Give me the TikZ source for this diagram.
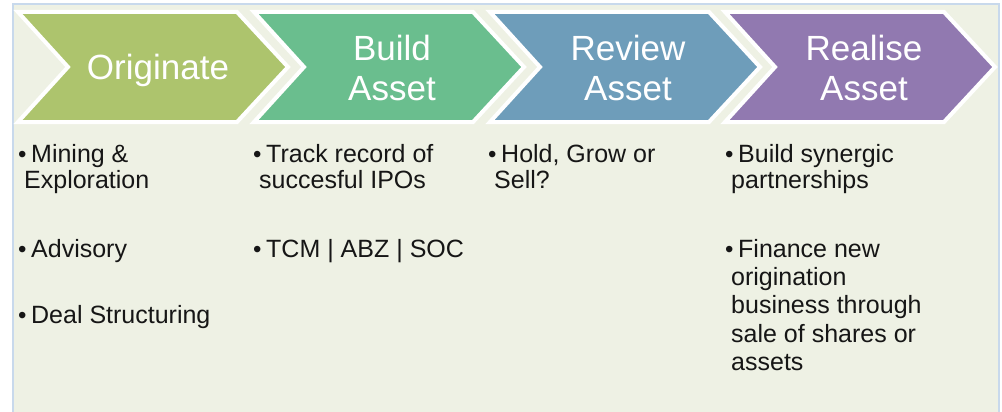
\documentclass[tikz,border=0pt]{standalone}
\usepackage{fontspec}
\setmainfont{Liberation Sans}
\definecolor{panel}{HTML}{EEF1E4}
\definecolor{panelborder}{HTML}{C8D9EC}
\definecolor{orig}{HTML}{ADC46D}
\definecolor{buildc}{HTML}{6ABE8E}
\definecolor{reviewc}{HTML}{6E9DBA}
\definecolor{realisec}{HTML}{9179B0}
\definecolor{bodytext}{HTML}{161616}
\newcommand{\bul}{\makebox[13pt][l]{\raisebox{0.3pt}{\fontsize{24}{24}\selectfont\textbullet}}}
\newcommand{\cont}{\hspace*{6pt}}
\tikzset{
  chevron/.style={draw=white, line width=4pt, line join=miter},
  titletext/.style={text=white, font=\fontsize{35}{40}\selectfont, align=center, inner sep=0pt},
  bodynode/.style={anchor=north west, align=left, inner sep=0pt, text=bodytext, font=\fontsize{25}{26.5}\selectfont},
}
\begin{document}
\begin{tikzpicture}[x=1pt,y=-1pt]
\useasboundingbox (0,0) rectangle (1002,412);
\fill[white] (0,0) rectangle (1002,412);
\filldraw[fill=panel, draw=panelborder, line width=2pt] (12.5,4.5) rectangle (998.5,425);
% chevrons
\foreach \x/\c in {18/orig,254/buildc,490/reviewc,725/realisec}{
  \filldraw[chevron, fill=\c] (\x,12) -- ++(219,0) -- ++(51,55) -- ++(-51,55) -- ++(-219,0) -- ++(50,-55) -- cycle;
}
% titles
\node[titletext, anchor=base] (t1) at (158,79.5) {Originate};
\node[titletext, anchor=north] (t2) at (392,34.5) {Build\\Asset};
\node[titletext, anchor=north] (t3) at (628,34.5) {Review\\Asset};
\node[titletext, anchor=north] (t4) at (864,34.5) {Realise\\Asset};
% column 1
\node[bodynode] (b11) at (18,144) {\bul Mining \&\\\cont Exploration};
\node[bodynode] (b12) at (18,239) {\bul Advisory};
\node[bodynode] (b13) at (18,305) {\bul Deal Structuring};
% column 2
\node[bodynode] (b21) at (253,144) {\bul Track record of\\\cont succesful IPOs};
\node[bodynode] (b22) at (253,239) {\bul TCM | ABZ | SOC};
% column 3
\node[bodynode] (b31) at (488,144) {\bul Hold, Grow or\\\cont Sell?};
% column 4
\node[bodynode] (b41) at (725,144) {\bul Build synergic\\\cont partnerships};
\node[bodynode, font=\fontsize{25}{28.3}\selectfont] (b42) at (725,239) {\bul Finance new\\\cont origination\\\cont business through\\\cont sale of shares or\\\cont assets};
\end{tikzpicture}
\end{document}
